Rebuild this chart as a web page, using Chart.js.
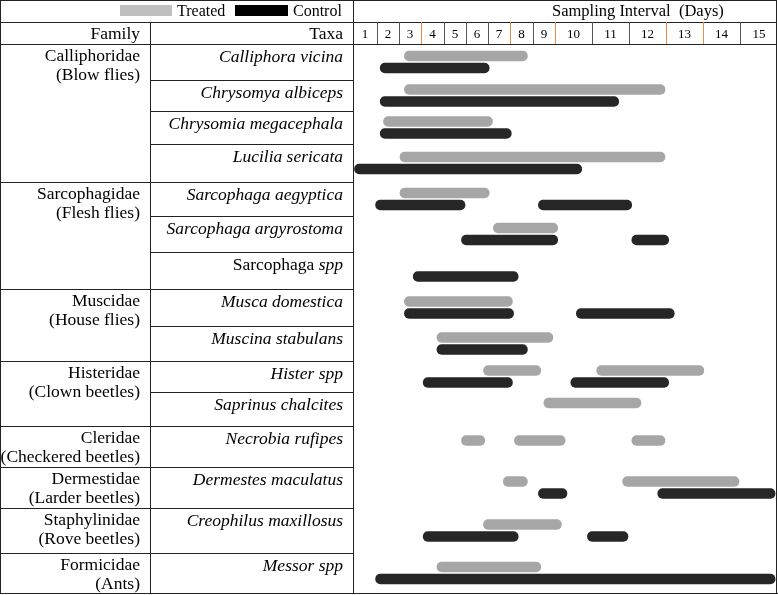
<!DOCTYPE html>
<html>
<head>
<meta charset="utf-8">
<script src="https://cdn.jsdelivr.net/npm/chart.js@4.4.1/dist/chart.umd.min.js"></script>
<style>
  body { margin: 0; background: #fff; font-family: "Liberation Serif", "Times New Roman", serif; color: #000; }
  #page { position: relative; width: 778px; height: 595px; overflow: hidden; background: #fff; }
  .line { position: absolute; background: #222; }
  .txt { position: absolute; white-space: pre; font-size: 17.5px; line-height: 19px; }
  .r { text-align: right; }
  .c { text-align: center; }
  i { font-style: italic; }
  #chartBox { position: absolute; left: 353px; top: 44px; width: 425px; height: 549px; }
</style>
</head>
<body>
<div id="page">
  <div id="chartBox"><canvas id="chart" width="425" height="549"></canvas></div>
</div>
<script>
// --- data ---
const families = ["Calliphoridae", "Sarcophagidae", "Muscidae", "Histeridae",
  "Cleridae", "Dermestidae", "Staphylinidae", "Formicidae"];
const familyCommon = ["(Blow flies)", "(Flesh flies)", "(House flies)", "(Clown beetles)",
  "(Checkered beetles)", "(Larder beetles)", "(Rove beetles)", "(Ants)"];
const familySize = [4, 3, 2, 2, 1, 1, 1, 1];

const taxa = ["Calliphora vicina", "Chrysomya albiceps", "Chrysomia megacephala", "Lucilia sericata",
  "Sarcophaga aegyptica", "Sarcophaga argyrostoma", "Sarcophaga spp", "Musca domestica",
  "Muscina stabulans", "Hister spp", "Saprinus chalcites", "Necrobia rufipes",
  "Dermestes maculatus", "Creophilus maxillosus", "Messor spp"];
const romanGenus = ["Sarcophaga spp"]; // genus written upright, "spp" in italics

const days = [1, 2, 3, 4, 5, 6, 7, 8, 9, 10, 11, 12, 13, 14, 15];

// bar ranges in day-column units (day n spans n-1 .. n), one entry per taxon
const treated1 = [[2.2, 7.8], [2.2, 12.0], [1.25, 6.25], [2.0, 12.0], [2.0, 6.1], [6.2, 9.1], null,
  [2.2, 7.15], [3.65, 8.95], [5.75, 8.4], [8.45, 11.35], [4.75, 5.9], [6.65, 7.8], [5.75, 9.2], [3.65, 8.4]];
const treated2 = [null, null, null, null, null, null, null, null, null,
  [10.1, 13.05], null, [7.15, 9.3], [10.8, 14.0], null, null];
const treated3 = [null, null, null, null, null, null, null, null, null,
  null, null, [11.05, 12.0], null, null, null];
const control1 = [[1.1, 6.1], [1.1, 10.75], [1.1, 7.1], [0.02, 9.75], [0.9, 5.0], [4.75, 9.1], [2.6, 7.4],
  [2.2, 7.2], [3.65, 7.8], [3.05, 7.15], null, null, [8.2, 9.35], [3.05, 7.4], [0.9, 14.95]];
const control2 = [null, null, null, null, [8.2, 11.1], [11.05, 12.1], null, [9.55, 12.25], null,
  [9.4, 12.1], null, null, [11.75, 14.95], [9.85, 11.0], null];

// --- layout of the table ---
const rowHeights = [36, 31, 33, 38, 34, 36, 37, 37, 35, 31, 34, 41, 41, 45, 40];
const dayWidths = [24, 22, 22, 23, 22, 22, 22, 23, 22, 37, 37, 37, 37, 37, 38];
const orangeEdges = [3, 7, 9, 12, 13];
const TOP = 44, FAM_X = 150, TAXA_X = 353, RIGHT = 777, BOTTOM = 593;

const page = document.getElementById("page");

function addLine(x, y, w, h, color) {
  const d = document.createElement("div");
  d.className = "line";
  Object.assign(d.style, { left: x + "px", top: y + "px", width: w + "px", height: h + "px" });
  if (color) d.style.background = color;
  page.appendChild(d);
}

function addText(html, cls, style) {
  const d = document.createElement("div");
  d.className = "txt " + (cls || "");
  d.innerHTML = html;
  Object.assign(d.style, style);
  page.appendChild(d);
  return d;
}

const rowTops = [];
let acc = TOP;
rowHeights.forEach(h => { rowTops.push(acc); acc += h; });

const dayEdges = [0];
dayWidths.forEach(w => dayEdges.push(dayEdges[dayEdges.length - 1] + w));

// outer frame and header lines
addLine(0, 0, RIGHT, 1);
addLine(0, BOTTOM, RIGHT + 1, 1);
addLine(0, 0, 1, BOTTOM);
addLine(RIGHT - 1, 0, 1, BOTTOM);
addLine(0, 22, RIGHT, 1);
addLine(0, TOP, RIGHT, 1);
addLine(FAM_X, 22, 1, BOTTOM - 22);
addLine(TAXA_X, 0, 1, BOTTOM);

// day header
days.forEach((d, k) => {
  if (k > 0) {
    const c = orangeEdges.includes(k) ? "#ee8a45" : "#555";
    addLine(TAXA_X + dayEdges[k], 22, 1, 22, c);
  }
  addText(String(d), "c", {
    left: (TAXA_X + dayEdges[k]) + "px", width: dayWidths[k] + "px",
    top: "24px", lineHeight: "19px", fontSize: "13px"
  });
});

// legend and titles
addLine(120, 5, 52, 11, "#bfbfbf");
addText("Treated", "", { left: "177px", top: "1px", fontSize: "16px" });
addLine(235, 5, 53, 11, "#000");
addText("Control", "", { left: "293px", top: "1px", fontSize: "16px" });
addText("Sampling Interval  (Days)", "", { left: "552px", top: "1px", fontSize: "16.5px" });
addText("Family", "r", { left: "0px", width: "140px", top: "24px" });
addText("Taxa", "r", { left: "0px", width: "343px", top: "24px" });

// family cells
let ti = 0;
families.forEach((f, fi) => {
  const top = rowTops[ti];
  if (fi > 0) addLine(0, top, TAXA_X, 1);
  addText(f + "\n" + familyCommon[fi], "r", { left: "0px", width: "140px", top: (top + 2) + "px" });
  for (let j = 0; j < familySize[fi]; j++, ti++) {
    if (j > 0) addLine(FAM_X, rowTops[ti], TAXA_X - FAM_X, 1);
  }
});

// taxa cells
taxa.forEach((t, i) => {
  let html;
  if (romanGenus.includes(t)) {
    const parts = t.split(" ");
    html = parts[0] + " <i>" + parts.slice(1).join(" ") + "</i>";
  } else {
    html = "<i>" + t + "</i>";
  }
  addText(html, "r", { left: "0px", width: "343px", top: (rowTops[i] + 3) + "px" });
});

// --- chart ---
function dayToPx(p) {
  const n = Math.min(Math.max(Math.floor(p), 0), dayWidths.length - 1);
  return dayEdges[n] + (p - n) * dayWidths[n];
}

const rowCenters = rowTops.map((t, i) => t - TOP + rowHeights[i] / 2);

function segs(arr) {
  return arr.map((s, i) => s ? { y: rowCenters[i], x: [dayToPx(s[0]), dayToPx(s[1])] } : null)
    .filter(Boolean);
}

const TREATED = "#a6a6a6", CONTROL = "#262626";
const barStyle = { barThickness: 12, borderWidth: 1, borderColor: "#fff", borderRadius: 6, borderSkipped: false };

new Chart(document.getElementById("chart"), {
  type: "bar",
  data: {
    datasets: [
      { label: "Treated", stack: "treated", data: segs(treated1), backgroundColor: TREATED, ...barStyle },
      { label: "Treated", stack: "treated", data: segs(treated2), backgroundColor: TREATED, ...barStyle },
      { label: "Treated", stack: "treated", data: segs(treated3), backgroundColor: TREATED, ...barStyle },
      { label: "Control", stack: "control", data: segs(control1), backgroundColor: CONTROL, ...barStyle },
      { label: "Control", stack: "control", data: segs(control2), backgroundColor: CONTROL, ...barStyle }
    ]
  },
  options: {
    indexAxis: "y",
    responsive: false,
    animation: false,
    layout: { padding: 0 },
    plugins: { legend: { display: false }, tooltip: { enabled: false } },
    scales: {
      x: { type: "linear", min: 0, max: dayEdges[dayEdges.length - 1], display: false, stacked: false },
      y: { type: "linear", min: 0, max: rowHeights.reduce((a, b) => a + b, 0), reverse: true,
           offset: false, display: false }
    }
  }
});
</script>
</body>
</html>
